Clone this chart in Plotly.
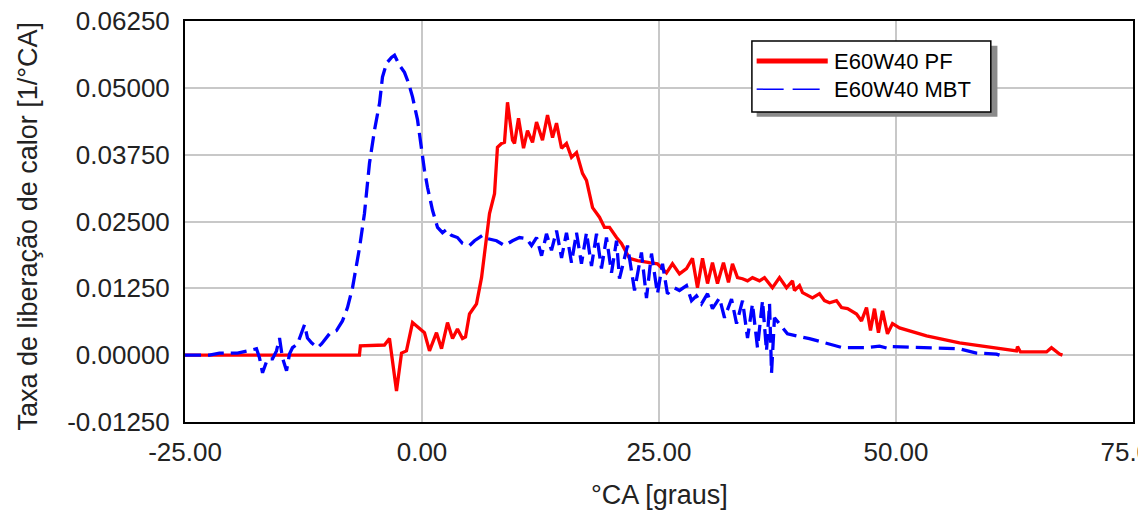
import plotly.graph_objects as go

# Heat release rate vs crank angle, two operating points
pf_ca = [-25.0, -6.6, -6.5, -3.96, -3.43, -2.69, -2.16, -1.64, -1.0, -0.26, 0.26, 0.79,
         1.53, 2.06, 2.69, 3.22, 3.74, 4.27, 4.59, 5.01, 5.75, 6.28, 6.59, 7.12, 7.65,
         7.96, 8.39, 8.70, 9.02, 9.55, 9.76, 10.18, 10.71, 11.13, 11.66, 12.08, 12.71,
         13.24, 13.77, 14.19, 14.72, 15.24, 15.77, 16.30, 16.93, 17.35, 17.99, 18.72,
         19.25, 19.78, 20.52, 21.04, 21.89, 22.73, 24.00, 24.84, 25.79, 26.42, 27.16,
         27.90, 28.53, 29.06, 29.59, 30.12, 30.64, 31.17, 31.80, 32.33, 32.75, 33.28,
         33.81, 34.34, 34.86, 35.60, 36.13, 36.97, 37.71, 38.45, 39.08, 39.29, 39.82,
         40.14, 41.19, 41.93, 42.46, 42.99, 43.72, 44.25, 44.89, 45.84, 46.36, 46.89,
         47.31, 47.73, 48.15, 48.58, 49.10, 49.63, 50.37, 53.22, 56.70, 60.18, 62.71,
         62.82, 63.13, 65.88, 66.40, 67.25, 67.56]
pf_hrr = [0.0, 0.0, 0.00174, 0.0019, 0.0031, -0.0067, 0.0004, 0.0008, 0.0061, 0.0049,
          0.0042, 0.0008, 0.0042, 0.0012, 0.0061, 0.0031, 0.0049, 0.0031, 0.0034, 0.0077,
          0.0096, 0.0145, 0.0190, 0.0265, 0.0302, 0.0389, 0.0396, 0.0398, 0.0473, 0.0402,
          0.0396, 0.0443, 0.0387, 0.0420, 0.0398, 0.0436, 0.0402, 0.0449, 0.0407, 0.0434,
          0.0387, 0.0396, 0.0370, 0.0379, 0.0340, 0.0327, 0.0276, 0.0258, 0.0239, 0.0239,
          0.0220, 0.0209, 0.0181, 0.0177, 0.0173, 0.0171, 0.0154, 0.0171, 0.0152, 0.0162,
          0.0181, 0.0126, 0.0181, 0.0134, 0.0173, 0.0134, 0.0173, 0.0136, 0.0171, 0.0145,
          0.0143, 0.0139, 0.0145, 0.0139, 0.0145, 0.0126, 0.0145, 0.0126, 0.0139, 0.0121,
          0.0130, 0.0117, 0.0107, 0.0115, 0.0102, 0.0098, 0.0102, 0.0089, 0.0087, 0.0077,
          0.0064, 0.0089, 0.0046, 0.0087, 0.0042, 0.0083, 0.0040, 0.0059, 0.0051, 0.0036,
          0.0023, 0.0014, 0.0008, 0.0016, 0.0006, 0.0006, 0.0014, 0.0002, 0.0]

mbt_ca = [-25.0, -22.42, -21.36, -19.46, -18.41, -17.46, -17.14, -16.82, -16.30, -15.77,
          -15.35, -15.03, -14.72, -14.29, -13.98, -13.66, -13.13, -12.39, -12.08, -11.65,
          -11.02, -10.60, -9.76, -9.02, -8.39, -7.86, -7.33, -6.59, -6.07, -5.54, -5.01,
          -4.48, -4.17, -3.74, -3.22, -2.90, -2.37, -1.85, -1.42, -1.00, -0.47, -0.05,
          0.26, 0.58, 1.11, 1.64, 2.16, 2.58, 3.11, 3.74, 4.27, 5.01, 5.54, 6.38, 6.91,
          7.86, 8.70, 9.55, 10.28, 11.02, 11.55, 12.08, 12.61, 13.13, 13.66, 14.19, 14.72,
          15.24, 15.77, 16.30, 16.82, 17.35, 17.88, 18.41, 18.93, 19.46, 19.99, 20.52,
          20.83, 21.68, 22.42, 23.15, 23.68, 24.21, 24.84, 25.37, 25.89, 26.63, 27.16,
          27.90, 28.43, 28.95, 29.48, 30.12, 30.64, 31.38, 31.91, 32.65, 33.18, 33.81,
          34.34, 34.86, 35.39, 35.92, 36.34, 36.66, 36.87, 37.18, 37.71, 38.55, 39.50,
          40.87, 44.35, 46.89, 48.26, 49.31, 49.63, 53.22, 56.70, 58.49, 60.60, 60.92]
mbt_hrr = [0.0, 0.0, 0.0004, 0.0004, 0.0008, 0.0012, -0.0005, -0.0033, -0.0007, -0.0007,
           0.0008, 0.0032, -0.0005, -0.0029, 0.0002, 0.0014, 0.0021, 0.0057, 0.0032, 0.0023,
           0.0014, 0.0021, 0.0040, 0.0046, 0.0064, 0.0089, 0.0126, 0.0201, 0.0265, 0.0359,
           0.0421, 0.0471, 0.0520, 0.0546, 0.0557, 0.0561, 0.0542, 0.0529, 0.0509, 0.0483,
           0.0440, 0.0383, 0.0346, 0.0314, 0.0271, 0.0239, 0.0229, 0.0235, 0.0224, 0.0220,
           0.0209, 0.0205, 0.0214, 0.0224, 0.0218, 0.0214, 0.0205, 0.0214, 0.0220, 0.0218,
           0.0205, 0.0220, 0.0186, 0.0227, 0.0196, 0.0233, 0.0182, 0.0229, 0.0173, 0.0229,
           0.0171, 0.0229, 0.0167, 0.0227, 0.0162, 0.0220, 0.0154, 0.0214, 0.0143, 0.0205,
           0.0121, 0.0192, 0.0107, 0.0190, 0.0115, 0.0171, 0.0115, 0.0126, 0.0121, 0.0130,
           0.0102, 0.0111, 0.0096, 0.0115, 0.0087, 0.0107, 0.0070, 0.0105, 0.0059, 0.0102,
           0.0032, 0.0096, 0.0014, 0.0102, 0.0008, 0.0096, -0.0033, 0.0070, 0.0059, 0.0040,
           0.0036, 0.0031, 0.0014, 0.0014, 0.0017, 0.0012, 0.0016, 0.0014, 0.0012, 0.0004,
           0.0002, 0.0]

series_names = ["E60W40 PF", "E60W40 MBT"]
x_ticks = [-25, 0, 25, 50, 75]
y_ticks = [-0.0125, 0.0, 0.0125, 0.025, 0.0375, 0.05, 0.0625]
x_title = "°CA [graus]"
y_title = "Taxa de liberação de calor [1/°CA]"

FONT = "Liberation Sans, Arial, sans-serif"
TXT = "#222222"
RED = "#ff0000"
BLUE = "#0000ff"

fig = go.Figure()
fig.add_trace(go.Scatter(x=pf_ca, y=pf_hrr, mode="lines", name=series_names[0],
                         line=dict(color=RED, width=3.3), showlegend=False))
fig.add_trace(go.Scatter(x=mbt_ca, y=mbt_hrr, mode="lines", name=series_names[1],
                         line=dict(color=BLUE, width=3.3, dash="16px,7px"), showlegend=False))

axis_common = dict(showgrid=True, gridcolor="#c8c8c8", gridwidth=1.5, zeroline=False,
                   showline=True, linecolor="black", linewidth=2, mirror=True,
                   ticks="", ticklabeloverflow="allow", automargin=False,
                   tickfont=dict(family=FONT, size=26, color=TXT))

# plain hyphen for negative tick labels
fig.update_xaxes(range=[-25, 75], tickvals=x_ticks,
                 ticktext=[f"{v:.2f}" for v in x_ticks],
                 ticklabelstandoff=6, **axis_common)
fig.update_yaxes(range=[-0.0125, 0.0625], tickvals=y_ticks,
                 ticktext=[f"{v:.5f}" for v in y_ticks],
                 ticklabelstandoff=8, **axis_common)

# hand-built legend box with drop shadow
shapes = [
    dict(type="rect", xref="paper", yref="paper", x0=0.603, x1=0.857, y0=0.761, y1=0.938,
         fillcolor="#8a8a8a", line=dict(width=0), layer="above"),
    dict(type="rect", xref="paper", yref="paper", x0=0.598, x1=0.850, y0=0.773, y1=0.950,
         fillcolor="white", line=dict(color="black", width=1.5), layer="above"),
    dict(type="line", xref="paper", yref="paper", x0=0.603, x1=0.678, y0=0.900, y1=0.900,
         line=dict(color=RED, width=5), layer="above"),
    dict(type="line", xref="paper", yref="paper", x0=0.603, x1=0.678, y0=0.830, y1=0.830,
         line=dict(color=BLUE, width=1.5, dash="27px,9px"), layer="above"),
]
annotations = [
    dict(xref="paper", yref="paper", x=0.6825, y=0.900, text=series_names[0],
         xanchor="left", yanchor="middle", showarrow=False,
         font=dict(family=FONT, size=22, color="black")),
    dict(xref="paper", yref="paper", x=0.6825, y=0.830, text=series_names[1],
         xanchor="left", yanchor="middle", showarrow=False,
         font=dict(family=FONT, size=22, color="black")),
    dict(xref="paper", yref="paper", x=0.5, y=0, yshift=-73, text=x_title,
         xanchor="center", yanchor="middle", showarrow=False,
         font=dict(family=FONT, size=27, color=TXT)),
    dict(xref="paper", yref="paper", x=0, y=0.5, xshift=-158, yshift=-5, text=y_title,
         textangle=-90, xanchor="center", yanchor="middle", showarrow=False,
         font=dict(family=FONT, size=27, color=TXT)),
]

fig.update_layout(width=1138, height=511, margin=dict(l=185, r=5, t=21, b=89),
                  paper_bgcolor="white", plot_bgcolor="white",
                  shapes=shapes, annotations=annotations, showlegend=False)

fig.write_html("out.html")
